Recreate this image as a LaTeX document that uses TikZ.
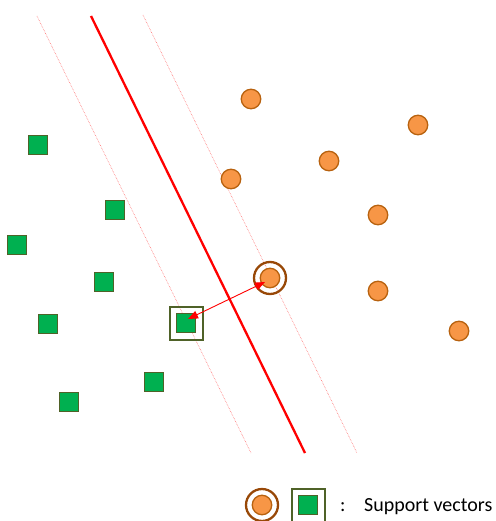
\documentclass[tikz,border=0pt]{standalone}
\usepackage{fontspec}
\setmainfont{Carlito}
\usetikzlibrary{arrows.meta}
\definecolor{orfill}{HTML}{F79646}
\definecolor{ordraw}{HTML}{B8620F}
\definecolor{ringc}{HTML}{984807}
\definecolor{grfill}{HTML}{00B050}
\definecolor{grdraw}{HTML}{4F6228}
\tikzset{
  posdot/.style={circle,fill=orfill,draw=ordraw,line width=1.3pt,minimum size=19.5pt,inner sep=0pt},
  negsq/.style={rectangle,fill=grfill,draw=grdraw,line width=1.3pt,minimum size=19pt,inner sep=0pt},
  posring/.style={circle,draw=ringc,line width=2.3pt,minimum size=32pt,inner sep=0pt},
  negbox/.style={rectangle,draw=grdraw,line width=2pt,minimum size=33pt,inner sep=0pt},
  marginline/.style={draw=red!55,line width=0.6pt,densely dotted},
  hyper/.style={draw=red,line width=2.3pt},
  legtext/.style={anchor=west,font=\fontsize{20}{22}\selectfont,inner sep=0pt},
}
\begin{document}
\begin{tikzpicture}[x=1pt,y=-1pt]
\useasboundingbox (0,0) rectangle (495,521);
% lines
\coordinate (l1) at (37,16); \coordinate (l2) at (251,453);
\coordinate (h1) at (91,16); \coordinate (h2) at (305,453);
\coordinate (r1) at (143,15); \coordinate (r2) at (357,453);
\draw[marginline] (l1) -- (l2);
\draw[marginline] (r1) -- (r2);
\draw[hyper] (h1) -- (h2);
% orange circles
\node[posdot] (o1) at (251,99) {};
\node[posdot] (o2) at (418,125) {};
\node[posdot] (o3) at (329,161) {};
\node[posdot] (o4) at (231,179) {};
\node[posdot] (o5) at (378,215) {};
\node[posring] (svo) at (270,278) {};
\node[posdot] (o6) at (270,278) {};
\node[posdot] (o7) at (378,291) {};
\node[posdot] (o8) at (459,331) {};
% green squares
\node[negsq] (g1) at (38,145) {};
\node[negsq] (g2) at (115,210) {};
\node[negsq] (g3) at (17,245) {};
\node[negsq] (g4) at (104,282) {};
\node[negsq] (g5) at (48,324) {};
\node[negbox] (svg) at (186,323) {};
\node[negsq] (g6) at (186,323) {};
\node[negsq] (g7) at (154,382) {};
\node[negsq] (g8) at (69,402) {};
% arrow
\draw[red,line width=0.9pt,{Triangle[length=10pt,width=8pt]}-{Triangle[length=10pt,width=8pt]}] ([shift={(-5,4)}]o6.center) -- ([shift={(2,-4)}]g6.center);
% legend
\node[posring] (lo) at (262,505) {};
\node[posdot] (lo2) at (262,505) {};
\node[negbox] (lg) at (308,505) {};
\node[negsq] (lg2) at (308,505) {};
\node[legtext] (lc) at (340,507) {:};
\node[legtext] (lt) at (364,507) {Support vectors};
\end{tikzpicture}
\end{document}
